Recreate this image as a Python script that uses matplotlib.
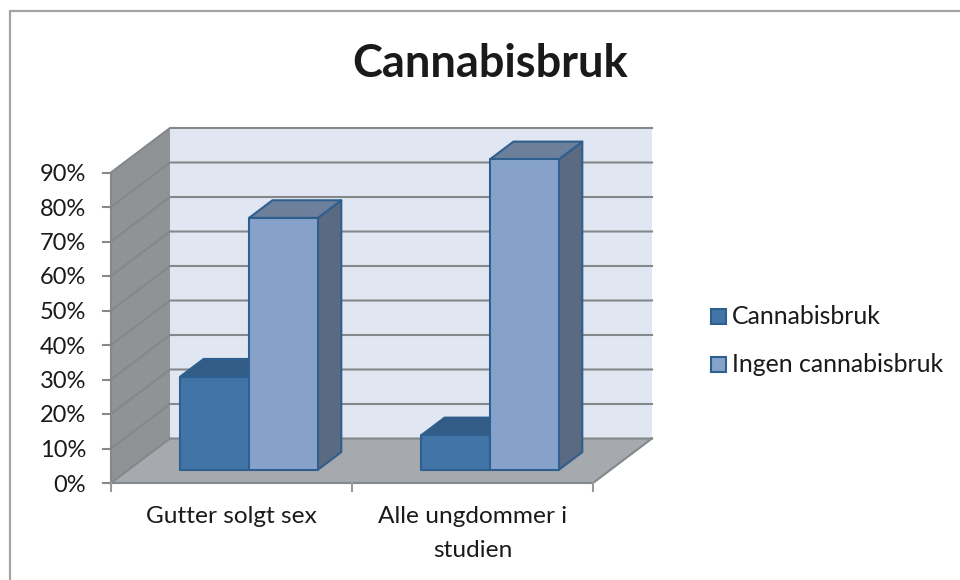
"""Excel style 3D clustered column chart."""
import matplotlib
matplotlib.use("Agg")
import matplotlib.pyplot as plt
from matplotlib.patches import Polygon, Rectangle

categories = ["Gutter solgt sex", "Alle ungdommer i\nstudien"]
series_names = ["Cannabisbruk", "Ingen cannabisbruk"]
cannabis = [27, 10]
ingen = [73, 90]
y_ticks = [0, 10, 20, 30, 40, 50, 60, 70, 80, 90]

plt.rcParams["font.family"] = ["Lato", "DejaVu Sans"]

W, H = 960, 580
X0, Y0 = 111, 483        # front corner of the plot box, pixels
CAT_W = 241              # width of one category
PX_PER_PCT = 3.45
DX, DY = 59, -44.5       # full depth of the box
DEPTH_LO, DEPTH_HI = 0.297, 0.694  # depth span of the bars
BAR_W = CAT_W / 3.5
GAP = (CAT_W - 2 * BAR_W) / 2

TEXT = "#1a1a1a"
WALL_SIDE = "#8f9396"
WALL_BACK = "#e1e7f2"
FLOOR = "#a6a9ae"
GRID = "#85888a"
EDGE = "#2f5f8f"
COLORS = {
    0: ("#4374a8", "#325b85", "#2f5a83"),
    1: ("#86a2ca", "#6c7f9b", "#5a6a80"),
}


def proj(x, pct, depth):
    """x in category units, pct in percent, depth 0..1 -> pixel position."""
    return (X0 + x * CAT_W + depth * DX, Y0 - pct * PX_PER_PCT + depth * DY)


def bar3d(ax, x_px, value, cols):
    front, top, side = cols
    w = BAR_W / CAT_W
    x = x_px / CAT_W
    a = proj(x, 0, DEPTH_LO)
    b = proj(x + w, 0, DEPTH_LO)
    c = proj(x + w, value, DEPTH_LO)
    d = proj(x, value, DEPTH_LO)
    e = proj(x, value, DEPTH_HI)
    f = proj(x + w, value, DEPTH_HI)
    g = proj(x + w, 0, DEPTH_HI)
    kw = dict(edgecolor=EDGE, linewidth=1.5, joinstyle="round")
    ax.add_patch(Polygon([b, c, f, g], facecolor=side, zorder=4, **kw))
    ax.add_patch(Polygon([d, c, f, e], facecolor=top, zorder=4, **kw))
    ax.add_patch(Polygon([a, b, c, d], facecolor=front, zorder=5, **kw))


fig = plt.figure(figsize=(W / 100, H / 100), dpi=100, facecolor="white")
ax = fig.add_axes([0, 0, 1, 1])
ax.set_xlim(0, W)
ax.set_ylim(H, 0)
ax.axis("off")

# chart area border, open on the right and at the bottom
ax.plot([10, 10, W], [H, 11, 11], color="#a4a4a4", lw=1.6, zorder=1,
        solid_joinstyle="miter")

n_cat = len(categories)
top_pct = y_ticks[-1]

# walls and floor
ax.add_patch(Polygon([proj(0, 0, 1), proj(n_cat, 0, 1), proj(n_cat, top_pct, 1), proj(0, top_pct, 1)],
                     facecolor=WALL_BACK, edgecolor="none", zorder=2))
ax.add_patch(Polygon([proj(0, 0, 0), proj(0, 0, 1), proj(0, top_pct, 1), proj(0, top_pct, 0)],
                     facecolor=WALL_SIDE, edgecolor="none", zorder=2))
ax.add_patch(Polygon([proj(0, 0, 0), proj(n_cat, 0, 0), proj(n_cat, 0, 1), proj(0, 0, 1)],
                     facecolor=FLOOR, edgecolor="none", zorder=2))

# gridlines
for t in y_ticks:
    pts = [proj(0, t, 0), proj(0, t, 1), proj(n_cat, t, 1)]
    ax.plot(*zip(*pts), color=GRID, lw=1.5, zorder=3, solid_joinstyle="miter")
    tick_x, tick_y = proj(0, t, 0)
    ax.plot([tick_x - 8, tick_x], [tick_y, tick_y], color=GRID, lw=1.5, zorder=3)
    ax.text(tick_x - 25, tick_y + 2, f"{t}%", ha="right", va="center",
            fontsize=17, color=TEXT, zorder=6)

# axis lines
ax.plot(*zip(proj(0, 0, 0), proj(0, top_pct, 0)), color=GRID, lw=1.5, zorder=3)
ax.plot(*zip(proj(0, 0, 0), proj(n_cat, 0, 0), proj(n_cat, 0, 1)), color=GRID, lw=1.5, zorder=3)
for i in range(n_cat + 1):
    tx, ty = proj(i, 0, 0)
    ax.plot([tx, tx], [ty, ty + 8], color="#9a9a9a", lw=1.5, zorder=3)

# bars, left to right
for i in range(n_cat):
    x_left = i * CAT_W + GAP
    bar3d(ax, x_left, cannabis[i], COLORS[0])
    bar3d(ax, x_left + BAR_W, ingen[i], COLORS[1])

# category labels
for i, name in enumerate(categories):
    tx, ty = proj(i + 0.5, 0, 0)
    ax.text(tx, ty + 23, name, ha="center", va="top", fontsize=17.6, color=TEXT,
            linespacing=1.78, zorder=6)

ax.text(490, 64, "Cannabisbruk", ha="center", va="center", fontsize=32.5,
        fontweight="bold", color=TEXT)

# legend
for name, cols, y in zip(series_names, (COLORS[0], COLORS[1]), (316, 364)):
    ax.add_patch(Rectangle((711, y - 7.5), 15, 15, facecolor=cols[0], edgecolor=EDGE, lw=1.5, zorder=5))
    ax.text(732, y, name, ha="left", va="center", fontsize=17.9, color=TEXT)

fig.savefig("out.png", dpi=100)
